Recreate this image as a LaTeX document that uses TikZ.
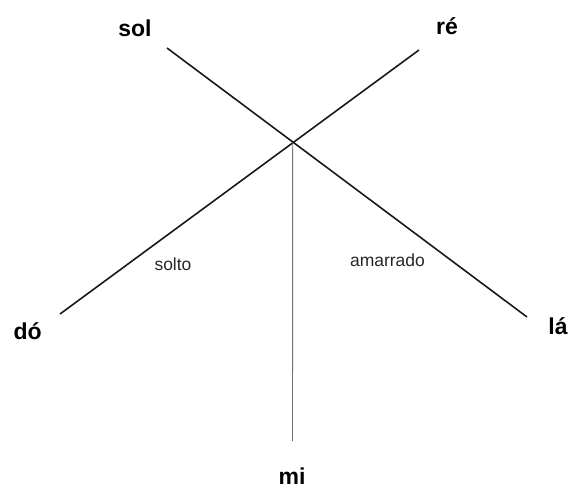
\documentclass[tikz,border=0pt]{standalone}
\usepackage{fontspec}
\setmainfont{Liberation Sans}
\usepackage{tikz}
\usetikzlibrary{positioning,calc}

\begin{document}
\begin{tikzpicture}[x=1pt,y=-1pt,
          nota/.style={font=\bfseries\fontsize{23}{26}\selectfont,
                       anchor=base,inner sep=0pt},
          tipo/.style={font=\fontsize{17.5}{20}\selectfont,
                       anchor=base,inner sep=0pt,text=black!85},
          corda/.style={line width=1.6pt,black!90},
          fio/.style={line width=0.9pt,black!55}
        ]
        \useasboundingbox (0,0) rectangle (570,488);
        \coordinate (meio) at (292.7,142.7);
        \coordinate (psol) at (167,48);
        \coordinate (pre)  at (419,50);
        \coordinate (pdo)  at (60,314);
        \coordinate (pla)  at (527,317);
        \coordinate (pmi)  at (292.5,441);
        \node[nota] (sol) at (135,36)  {sol};
        \node[nota] (re)  at (447,34)  {ré};
        \node[nota] (do)  at (27.7,339) {dó};
        \node[nota] (la)  at (558,334) {lá};
        \node[nota] (mi)  at (292,484) {mi};
        \node[tipo] (solto)    at (173,270)   {solto};
        \node[tipo] (amarrado) at (387.5,266) {amarrado};
        \draw[corda] (psol) -- (pla);
        \draw[corda] (pre)  -- (pdo);
        \draw[fio]   (meio) -- (pmi);
      \end{tikzpicture}
\end{document}
